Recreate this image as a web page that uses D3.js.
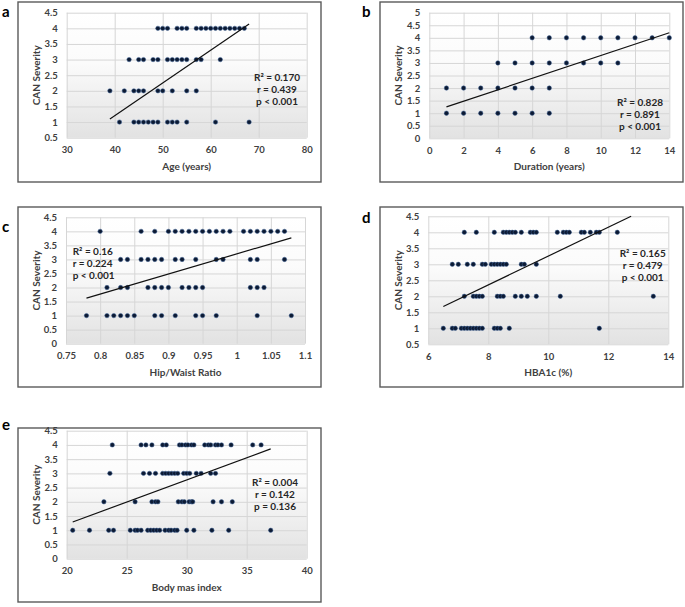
<!DOCTYPE html>
<html>
<head>
<meta charset="utf-8">
<script src="https://cdn.jsdelivr.net/npm/d3@7"></script>
<style>
  body { margin: 0; background: #fff; }
  svg { display: block; }
  text { font-family: Lato, "Open Sans", sans-serif; }
</style>
</head>
<body>
<div id="chart"></div>
<script>
// DATA (x values grouped by CAN severity level)

var ageSev4 = [49, 50, 51, 53, 54, 55, 57, 58, 59, 60, 61, 62, 63, 64, 65, 66, 67];
var ageSev3 = [43, 45, 46, 48, 49, 51, 52, 53, 54, 55, 57, 58, 62];
var ageSev2 = [39, 42, 44, 45, 46, 49, 50, 52, 55, 57];
var ageSev1 = [41, 44, 45, 46, 47, 48, 49, 51, 52, 53, 55, 61, 68];
var ageTrend = [[39, 1.10], [68, 4.14]];
var ageStats = ["R² = 0.170", "r = 0.439", "p < 0.001"];
var ageTicksX = [30, 40, 50, 60, 70, 80];
var ageTicksY = [0.5, 1, 1.5, 2, 2.5, 3, 3.5, 4, 4.5];

var durSev4 = [6, 7, 8, 9, 10, 11, 12, 13, 14];
var durSev3 = [4, 5, 6, 7, 8, 9, 10, 11];
var durSev2 = [1, 2, 3, 4, 5, 6, 7];
var durSev1 = [1, 2, 3, 4, 5, 6, 7];
var durTrend = [[1, 1.25], [14, 4.2]];
var durStats = ["R² = 0.828", "r = 0.891", "p < 0.001"];
var durTicksX = [0, 2, 4, 6, 8, 10, 12, 14];
var durTicksY = [0, 0.5, 1, 1.5, 2, 2.5, 3, 3.5, 4, 4.5, 5];

var whrSev4 = [0.80, 0.86, 0.88, 0.90, 0.91, 0.92, 0.93, 0.94, 0.95, 0.96, 0.97, 0.98, 0.99,
               1.01, 1.02, 1.03, 1.04, 1.05, 1.06, 1.07];
var whrSev3 = [0.83, 0.84, 0.86, 0.87, 0.88, 0.89, 0.91, 0.92, 0.94, 0.97, 0.98, 1.02, 1.03, 1.07];
var whrSev2 = [0.81, 0.83, 0.84, 0.87, 0.88, 0.89, 0.90, 0.92, 0.93, 0.94, 0.95, 1.02, 1.03, 1.04];
var whrSev1 = [0.78, 0.81, 0.82, 0.83, 0.84, 0.85, 0.88, 0.89, 0.91, 0.94, 0.95, 0.97, 1.03, 1.08];
var whrTrend = [[0.78, 1.62], [1.08, 3.77]];
var whrStats = ["R² = 0.16", "r = 0.224", "p < 0.001"];
var whrTicksX = [0.75, 0.8, 0.85, 0.9, 0.95, 1, 1.05, 1.1];
var whrTicksY = [0, 0.5, 1, 1.5, 2, 2.5, 3, 3.5, 4, 4.5];

var hbaSev4 = [7.2, 7.6, 8.2, 8.5, 8.6, 8.7, 8.8, 8.9, 9.1, 9.4, 9.5, 9.6, 10.3, 10.5, 10.6,
               10.7, 11.1, 11.2, 11.4, 11.6, 11.7, 12.3];
var hbaSev3 = [6.8, 7.0, 7.3, 7.5, 7.8, 7.9, 8.1, 8.2, 8.3, 8.4, 8.5, 8.6, 9.1, 9.2, 9.6];
var hbaSev2 = [7.2, 7.5, 7.6, 7.7, 7.8, 8.3, 8.4, 8.5, 8.9, 9.1, 9.3, 9.6, 10.4, 13.5];
var hbaSev1 = [6.5, 6.8, 6.9, 7.1, 7.2, 7.3, 7.4, 7.5, 7.6, 7.7, 7.8, 8.2, 8.3, 8.4, 8.7, 11.7];
var hbaTrend = [[6.5, 1.68], [12.76, 4.5]];
var hbaStats = ["R² = 0.165", "r = 0.479", "p < 0.001"];
var hbaTicksX = [6, 8, 10, 12, 14];
var hbaTicksY = [0.5, 1, 1.5, 2, 2.5, 3, 3.5, 4, 4.5];

var bmiSev4 = [23.8, 26.2, 26.6, 27.1, 28.0, 28.3, 29.4, 29.6, 29.9, 30.1, 30.4, 30.6,
               31.5, 31.8, 32.0, 32.4, 32.6, 32.9, 33.7, 35.5, 36.2];
var bmiSev3 = [23.6, 26.4, 26.9, 27.4, 28.0, 28.25, 28.5, 28.75, 29.0, 29.25, 29.75, 30.0,
               30.25, 30.8, 31.2, 32.0, 32.4];
var bmiSev2 = [23.1, 25.7, 27.1, 27.4, 27.6, 29.3, 29.6, 29.8, 30.2, 30.4, 30.5, 32.2, 32.9, 33.8];
var bmiSev1 = [20.5, 21.9, 23.5, 23.9, 25.3, 25.7, 25.9, 26.2, 26.75, 27.0, 27.25, 27.5, 27.75,
               28.2, 28.5, 28.7, 29.0, 29.2, 30.0, 30.6, 32.1, 33.5, 37.0];
var bmiTrend = [[20.5, 1.29], [37, 3.86]];
var bmiStats = ["R² = 0.004", "r = 0.142", "p = 0.136"];
var bmiTicksX = [20, 25, 30, 35, 40];
var bmiTicksY = [0, 0.5, 1, 1.5, 2, 2.5, 3, 3.5, 4, 4.5];

// LAYOUT

var panels = [
  { letter: "a", lx: 2, ly: 17, frame: [18, 2, 321, 182], plot: [66.7, 12.7, 306.7, 137.7],
    sev: [ageSev1, ageSev2, ageSev3, ageSev4], trend: ageTrend, stats: ageStats,
    tx: ageTicksX, ty: ageTicksY, title: "Age (years)", statX: 277, statY: 81, anchor: "middle" },
  { letter: "b", lx: 362, ly: 17, frame: [380, 2, 683, 182], plot: [429.3, 12.7, 669.3, 138.3],
    sev: [durSev1, durSev2, durSev3, durSev4], trend: durTrend, stats: durStats,
    tx: durTicksX, ty: durTicksY, title: "Duration (years)", statX: 640, statY: 106, anchor: "middle" },
  { letter: "c", lx: 2, ly: 232, frame: [18, 207, 321, 387], plot: [66, 217.3, 305, 343.7],
    sev: [whrSev1, whrSev2, whrSev3, whrSev4], trend: whrTrend, stats: whrStats,
    tx: whrTicksX, ty: whrTicksY, title: "Hip/Waist Ratio", statX: 72.7, statY: 255, anchor: "start" },
  { letter: "d", lx: 362, ly: 223, frame: [380, 207, 683, 387], plot: [428.3, 216.3, 668.3, 344.3],
    sev: [hbaSev1, hbaSev2, hbaSev3, hbaSev4], trend: hbaTrend, stats: hbaStats,
    tx: hbaTicksX, ty: hbaTicksY, title: "HBA1c (%)", statX: 642.7, statY: 257, anchor: "middle" },
  { letter: "e", lx: 2, ly: 430, frame: [18, 428, 321, 602], plot: [66.7, 430.7, 306.7, 558.7],
    sev: [bmiSev1, bmiSev2, bmiSev3, bmiSev4], trend: bmiTrend, stats: bmiStats,
    tx: bmiTicksX, ty: bmiTicksY, title: "Body mas index", statX: 275, statY: 485.5, anchor: "middle" }
];

var svg = d3.select("#chart")
    .append("svg")
    .attr("width", 685)
    .attr("height", 607);

var grad = svg.append("defs").append("linearGradient")
    .attr("id", "plotFill")
    .attr("x1", 0).attr("y1", 0).attr("x2", 0).attr("y2", 1);
grad.append("stop").attr("offset", "0%").attr("stop-color", "#ffffff");
grad.append("stop").attr("offset", "40%").attr("stop-color", "#fbfbfb");
grad.append("stop").attr("offset", "100%").attr("stop-color", "#e2e2e2");

panels.forEach(drawPanel);

function drawPanel(p) {
  var f = p.frame, a = p.plot;

  svg.append("rect")
      .attr("x", f[0]).attr("y", f[1])
      .attr("width", f[2] - f[0]).attr("height", f[3] - f[1])
      .attr("fill", "#fff")
      .attr("stroke", "#5a5a5a")
      .attr("stroke-width", 1.4);

  svg.append("text")
      .attr("x", p.lx).attr("y", p.ly)
      .attr("font-family", "Liberation Sans, Arial, sans-serif")
      .attr("font-weight", "bold")
      .attr("font-size", 15)
      .text(p.letter);

  var x = d3.scaleLinear()
      .domain([p.tx[0], p.tx[p.tx.length - 1]])
      .range([a[0], a[2]]);

  var y = d3.scaleLinear()
      .domain([p.ty[0], p.ty[p.ty.length - 1]])
      .range([a[3], a[1]]);

  var w = a[2] - a[0], h = a[3] - a[1];

  svg.append("rect")
      .attr("x", a[0]).attr("y", a[1])
      .attr("width", w).attr("height", h)
      .attr("fill", "url(#plotFill)");

  var gx = svg.append("g")
      .attr("transform", "translate(0," + a[3] + ")")
      .call(d3.axisBottom(x).tickValues(p.tx).tickFormat(function (d) { return d; })
          .tickSizeInner(-h).tickSizeOuter(0).tickPadding(9));

  var gy = svg.append("g")
      .attr("transform", "translate(" + a[0] + ",0)")
      .call(d3.axisLeft(y).tickValues(p.ty).tickFormat(function (d) { return d; })
          .tickSizeInner(-w).tickSizeOuter(0).tickPadding(9));

  [gx, gy].forEach(function (g) {
    g.select(".domain").remove();
    g.selectAll("line").attr("stroke", "#d6d6d6").attr("stroke-width", 1);
    g.selectAll("text")
        .attr("font-family", "Lato, sans-serif")
        .attr("font-size", 9.5)
        .attr("font-weight", "bold")
        .attr("fill", "#404040");
  });

  svg.append("text")
      .attr("x", (a[0] + a[2]) / 2)
      .attr("y", a[3] + 32)
      .attr("text-anchor", "middle")
      .attr("font-size", 10)
      .attr("font-weight", "bold")
      .attr("fill", "#404040")
      .text(p.title);

  svg.append("text")
      .attr("transform", "translate(" + (f[0] + 21.5) + "," + ((a[1] + a[3]) / 2) + ") rotate(-90)")
      .attr("text-anchor", "middle")
      .attr("font-size", 10)
      .attr("font-weight", "bold")
      .attr("fill", "#404040")
      .text("CAN Severity");

  var pts = [];
  p.sev.forEach(function (arr, i) {
    arr.forEach(function (v) { pts.push({ x: v, y: i + 1 }); });
  });

  svg.append("g").selectAll("circle")
      .data(pts)
      .enter().append("circle")
      .attr("cx", function (d) { return x(d.x); })
      .attr("cy", function (d) { return y(d.y); })
      .attr("r", 2.2)
      .attr("fill", "#0c1a33")
      .attr("stroke", "#3f6296")
      .attr("stroke-width", 0.5);

  svg.append("line")
      .attr("x1", x(p.trend[0][0])).attr("y1", y(p.trend[0][1]))
      .attr("x2", x(p.trend[1][0])).attr("y2", y(p.trend[1][1]))
      .attr("stroke", "#111")
      .attr("stroke-width", 1.2);

  var st = svg.append("text")
      .attr("text-anchor", p.anchor)
      .attr("font-size", 10)
      .attr("font-weight", "bold")
      .attr("fill", "#262626");
  p.stats.forEach(function (s, i) {
    st.append("tspan")
        .attr("x", p.statX)
        .attr("y", p.statY + i * 12)
        .text(s);
  });
}
</script>
</body>
</html>
